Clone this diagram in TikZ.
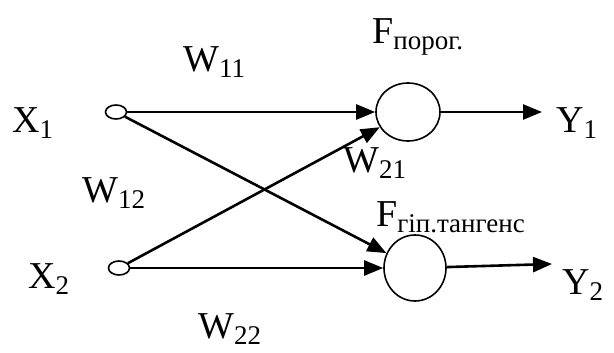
\documentclass[tikz,border=0pt]{standalone}
\usepackage{fontspec}
\setmainfont{Liberation Serif}
\usetikzlibrary{arrows.meta,shapes.geometric}
\newcommand\symsub[2]{{\fontsize{38}{40}\selectfont #1}\raisebox{-6pt}{\fontsize{27}{29}\selectfont #2}}
\begin{document}
\begin{tikzpicture}[x=1pt,y=-1pt,
  inp/.style={draw, line width=1.6pt, ellipse, minimum width=21pt, minimum height=14pt, inner sep=0pt},
  neuron/.style={draw, line width=1.6pt, ellipse, minimum width=64pt, minimum height=58pt, inner sep=0pt},
  conn/.style={line width=2.6pt, -{Triangle[length=19pt,width=15pt]}},
  lbl/.style={anchor=base west, inner sep=0pt}]
\useasboundingbox (0,0) rectangle (614,353);
\node[inp] (x1) at (116,112) {};
\node[inp] (x2) at (119,268) {};
\node[neuron] (n1) at (408,112) {};
\node[neuron, minimum width=62pt, minimum height=66pt] (n2) at (415,268) {};
\coordinate (y1) at (542,112);
\coordinate (y2) at (552,264);
\draw[conn] (x1) -- (n1);
\draw[conn] (x1) -- (n2);
\draw[conn] (x2) -- (n1);
\draw[conn] (x2) -- (n2);
\draw[conn] (n1) -- (y1);
\draw[conn] (n2) -- (y2);
\node[lbl] (lx1) at (12,132) {\symsub{X}{1}};
\node[lbl] (ly1) at (556,132) {\symsub{Y}{1}};
\node[lbl] (lx2) at (28,288) {\symsub{X}{2}};
\node[lbl] (ly2) at (562,294) {\symsub{Y}{2}};
\node[lbl] (lw11) at (183,72) {\symsub{W}{11}};
\node[lbl] (lw12) at (82,202) {\symsub{W}{12}};
\node[lbl] (lw21) at (343,172) {\symsub{W}{21}};
\node[lbl] (lw22) at (198,338) {\symsub{W}{22}};
\node[lbl] (lf1) at (372,44) {\symsub{F}{порог.}};
\node[lbl] (lf2) at (376,226) {\symsub{F}{гіп.тангенс}};
\end{tikzpicture}
\end{document}
